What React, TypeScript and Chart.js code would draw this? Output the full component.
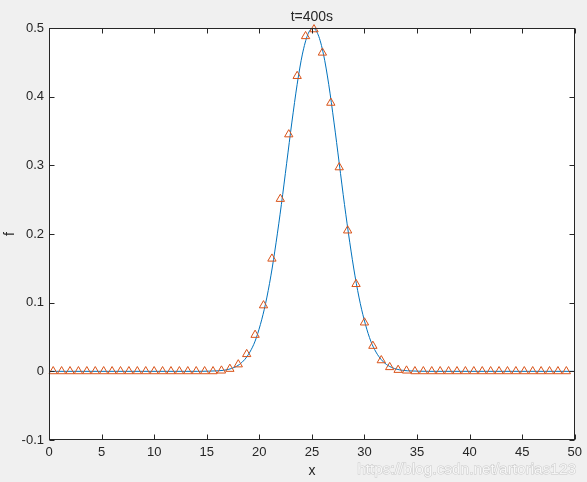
import React, { useEffect, useRef } from "react";
import { Chart, registerables } from "chart.js";

Chart.register(...registerables);

// ---- data ----
const markerX = [
  0.4, 1.2, 2.0, 2.8, 3.6, 4.4, 5.2, 6.0, 6.8, 7.6, 8.4, 9.2, 10.0, 10.8, 11.6, 12.4,
  13.2, 14.0, 14.8, 15.6, 16.4, 17.2, 18.0, 18.8, 19.6, 20.4, 21.2, 22.0, 22.8, 23.6,
  24.4, 25.2, 26.0, 26.8, 27.6, 28.4, 29.2, 30.0, 30.8, 31.6, 32.4, 33.2, 34.0, 34.8,
  35.6, 36.4, 37.2, 38.0, 38.8, 39.6, 40.4, 41.2, 42.0, 42.8, 43.6, 44.4, 45.2, 46.0,
  46.8, 47.6, 48.4, 49.2,
];
const markerY = [
  0, 0, 0, 0, 0, 0, 0, 0, 0, 0, 0, 0, 0, 0, 0, 0, 0, 0, 0, 0,
  0.001, 0.0035, 0.010, 0.025, 0.053, 0.096, 0.164, 0.251, 0.345, 0.430,
  0.488, 0.498, 0.464, 0.391, 0.297, 0.205, 0.127, 0.071, 0.037, 0.016,
  0.006, 0.002, 0.001,
  0, 0, 0, 0, 0, 0, 0, 0, 0, 0, 0, 0, 0, 0, 0, 0, 0, 0, 0,
];
const lineX = [
  0, 14.1, 15.1, 16.1, 16.6, 17.1, 17.6, 18.1, 18.6, 19.1, 19.6, 20.1, 20.6, 21.1, 21.6,
  22.1, 22.6, 23.1, 23.6, 24.1, 24.6, 25.1, 25.6, 26.1, 26.6, 27.1, 27.6, 28.1, 28.6,
  29.1, 29.6, 30.1, 30.6, 31.1, 31.6, 32.1, 32.6, 33.1, 33.6, 34.1, 35.1, 36.1, 50,
];
const lineY = [
  0, 0, 0.0002, 0.0008, 0.0015, 0.003, 0.0056, 0.0099, 0.017, 0.028, 0.044, 0.068, 0.099,
  0.139, 0.188, 0.243, 0.303, 0.363, 0.418, 0.462, 0.49, 0.5, 0.49, 0.462, 0.418, 0.363,
  0.303, 0.243, 0.188, 0.139, 0.099, 0.068, 0.044, 0.028, 0.017, 0.0099, 0.0056, 0.003,
  0.0015, 0.0008, 0.0002, 0, 0,
];
const xTicks = [0, 5, 10, 15, 20, 25, 30, 35, 40, 45, 50];
const yTicks = [-0.1, 0, 0.1, 0.2, 0.3, 0.4, 0.5];
const titleText = "t=400s";
const xLabel = "x";
const yLabel = "f";
const watermark = "https://blog.csdn.net/artorias123";

const FONT = '"Liberation Sans", Arial, Helvetica, sans-serif';
const INK = "#262626";

const matlabPlugin = {
  id: "matlabLook",
  beforeDraw(chart: any) {
    const { ctx, chartArea: a, width, height } = chart;
    ctx.save();
    ctx.fillStyle = "#f0f0f0";
    ctx.fillRect(0, 0, width, height);
    ctx.fillStyle = "#ffffff";
    ctx.fillRect(a.left, a.top, a.right - a.left, a.bottom - a.top);
    ctx.restore();
  },
  afterDatasetsDraw(chart: any) {
    const { ctx, chartArea: a, scales } = chart;
    const xs = scales.x;
    const ys = scales.y;
    const L = Math.round(a.left) + 0.5;
    const R = Math.round(a.right) - 0.5;
    const T = Math.round(a.top) + 0.5;
    const B = Math.round(a.bottom) - 0.5;
    ctx.save();
    ctx.strokeStyle = INK;
    ctx.lineWidth = 1;
    ctx.strokeRect(L, T, R - L, B - T);
    const tl = 5;
    ctx.beginPath();
    for (const v of xTicks) {
      const px = Math.round(xs.getPixelForValue(v)) + 0.5;
      ctx.moveTo(px, B);
      ctx.lineTo(px, B - tl);
      ctx.moveTo(px, T);
      ctx.lineTo(px, T + tl);
    }
    for (const v of yTicks) {
      const py = Math.round(ys.getPixelForValue(v)) + 0.5;
      ctx.moveTo(L, py);
      ctx.lineTo(L + tl, py);
      ctx.moveTo(R, py);
      ctx.lineTo(R - tl, py);
    }
    ctx.stroke();

    const cx = (a.left + a.right) / 2;
    ctx.fillStyle = INK;
    ctx.textAlign = "center";
    ctx.textBaseline = "alphabetic";
    ctx.font = `14px ${FONT}`;
    ctx.fillText(titleText, cx, 21);
    ctx.font = `14px ${FONT}`;
    ctx.fillText(xLabel, cx, 475);
    ctx.save();
    ctx.translate(14, (a.top + a.bottom) / 2);
    ctx.rotate(-Math.PI / 2);
    ctx.fillText(yLabel, 0, 0);
    ctx.restore();

    // watermark
    ctx.font = `16px ${FONT}`;
    const w = ctx.measureText(watermark).width;
    const size = (16 * 219) / w;
    ctx.font = `${size}px ${FONT}`;
    ctx.textAlign = "right";
    ctx.lineWidth = 1;
    ctx.strokeStyle = "rgba(170,170,170,0.55)";
    ctx.fillStyle = "rgba(255,255,255,0.8)";
    ctx.strokeText(watermark, 576, 474);
    ctx.fillText(watermark, 576, 474);
    ctx.restore();
  },
};

export default function App() {
  const ref = useRef<HTMLCanvasElement | null>(null);
  useEffect(() => {
    if (!ref.current) return;
    const chart = new Chart(ref.current, {
      type: "line",
      data: {
        datasets: [
          {
            label: "numeric",
            data: markerX.map((x, i) => ({ x, y: markerY[i] })),
            showLine: false,
            pointStyle: "triangle",
            pointRadius: 4.8,
            pointBorderWidth: 1,
            pointBorderColor: "#D95319",
            pointBackgroundColor: "rgba(0,0,0,0)",
            borderColor: "#D95319",
            backgroundColor: "rgba(0,0,0,0)",
            clip: false,
          } as any,
          {
            label: "exact",
            data: lineX.map((x, i) => ({ x, y: lineY[i] })),
            borderColor: "#0072BD",
            borderWidth: 1,
            pointRadius: 0,
            cubicInterpolationMode: "monotone",
            fill: false,
          } as any,
        ],
      },
      options: {
        responsive: false,
        animation: false,
        events: [],
        layout: { padding: { top: 28, right: 11, left: 0, bottom: 0 } },
        plugins: {
          legend: { display: false },
          tooltip: { enabled: false },
          title: { display: false },
        },
        scales: {
          x: {
            type: "linear",
            min: 0,
            max: 50,
            afterBuildTicks: (s: any) => {
              s.ticks = xTicks.map((v) => ({ value: v }));
            },
            afterFit: (s: any) => {
              s.height = 42;
            },
            grid: { display: false, drawTicks: false },
            border: { display: false },
            ticks: {
              color: INK,
              padding: 5,
              maxRotation: 0,
              autoSkip: false,
              font: { family: FONT, size: 13 },
              callback: (v: any) => String(v),
            },
          },
          y: {
            type: "linear",
            min: -0.1,
            max: 0.5,
            afterBuildTicks: (s: any) => {
              s.ticks = yTicks.map((v) => ({ value: v }));
            },
            afterFit: (s: any) => {
              s.width = 49;
            },
            grid: { display: false, drawTicks: false },
            border: { display: false },
            ticks: {
              color: INK,
              padding: 5,
              autoSkip: false,
              font: { family: FONT, size: 13 },
              callback: (v: any) => String(Number(Number(v).toFixed(1))),
            },
          },
        },
      } as any,
      plugins: [matlabPlugin],
    });
    return () => chart.destroy();
  }, []);
  return (
    <div style={{ position: "absolute", left: 0, top: 0, width: 587, height: 482, background: "#f0f0f0" }}>
      <canvas ref={ref} width={587} height={482} style={{ display: "block" }} />
    </div>
  );
}
